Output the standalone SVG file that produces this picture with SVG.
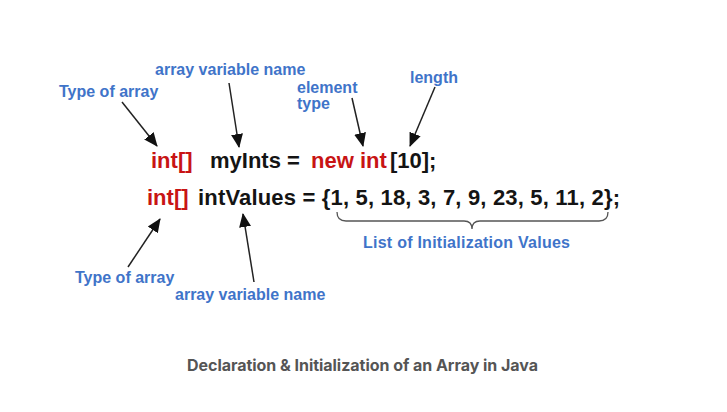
<svg xmlns="http://www.w3.org/2000/svg" width="727" height="412" viewBox="0 0 727 412">
<style>
.lbl{font-family:"Liberation Sans",Arial,sans-serif;font-weight:bold;font-size:16px;fill:#3f74c9}
.code{font-family:"Liberation Sans",Arial,sans-serif;font-weight:bold;font-size:22px;fill:#141414}
.red{fill:#c81414}
.cap{font-family:Inter,"Liberation Sans",sans-serif;font-weight:700;font-size:16px;fill:#555}
.arr{stroke:#222;stroke-width:1.5;fill:none;marker-end:url(#ah)}
</style>
<defs>
<marker id="ah" markerUnits="userSpaceOnUse" markerWidth="14" markerHeight="14" viewBox="0 0 14 14" refX="13" refY="7" orient="auto">
<path d="M0,1 L14,7 L0,13 Z" fill="#111"/>
</marker>
</defs>
<rect width="727" height="412" fill="#fff"/>
<g id="code1">
<text class="code" y="168"><tspan class="red" x="151">int[]</tspan><tspan x="210">myInts</tspan><tspan x="287">=</tspan><tspan class="red" x="311">new int</tspan><tspan x="390">[10];</tspan></text>
</g>
<g id="code2">
<text class="code" y="205"><tspan class="red" x="147">int[]</tspan><tspan x="198" textLength="422">intValues = {1, 5, 18, 3, 7, 9, 23, 5, 11, 2};</tspan></text>
</g>
<g id="label-type-top"><text class="lbl" x="59" y="97">Type of array</text></g>
<g id="label-name-top"><text class="lbl" x="155" y="75">array variable name</text></g>
<g id="label-element"><text class="lbl" x="297" y="93">element</text><text class="lbl" x="297" y="109">type</text></g>
<g id="label-length"><text class="lbl" x="410" y="83">length</text></g>
<g id="label-type-bottom"><text class="lbl" x="75" y="283">Type of array</text></g>
<g id="label-name-bottom"><text class="lbl" x="175" y="300">array variable name</text></g>
<g id="label-list"><text class="lbl" x="363" y="248" textLength="207">List of Initialization Values</text></g>
<g id="brace"><path d="M337,212 Q337,221 346,221 L464,221 Q472,221 472,229 Q472,221 480,221 L599,221 Q608,221 608,212" fill="none" stroke="#555" stroke-width="1.3"/></g>
<g id="connectors">
<line class="arr" x1="122" y1="102" x2="157" y2="146"/>
<line class="arr" x1="229" y1="83" x2="239" y2="147"/>
<line class="arr" x1="352" y1="98" x2="363" y2="146"/>
<line class="arr" x1="435" y1="87" x2="410" y2="146"/>
<line class="arr" x1="128" y1="267" x2="160" y2="219"/>
<line class="arr" x1="254" y1="282" x2="243" y2="214"/>
</g>
<g id="caption"><text class="cap" x="187" y="371" textLength="351">Declaration &amp; Initialization of an Array in Java</text></g>
</svg>
